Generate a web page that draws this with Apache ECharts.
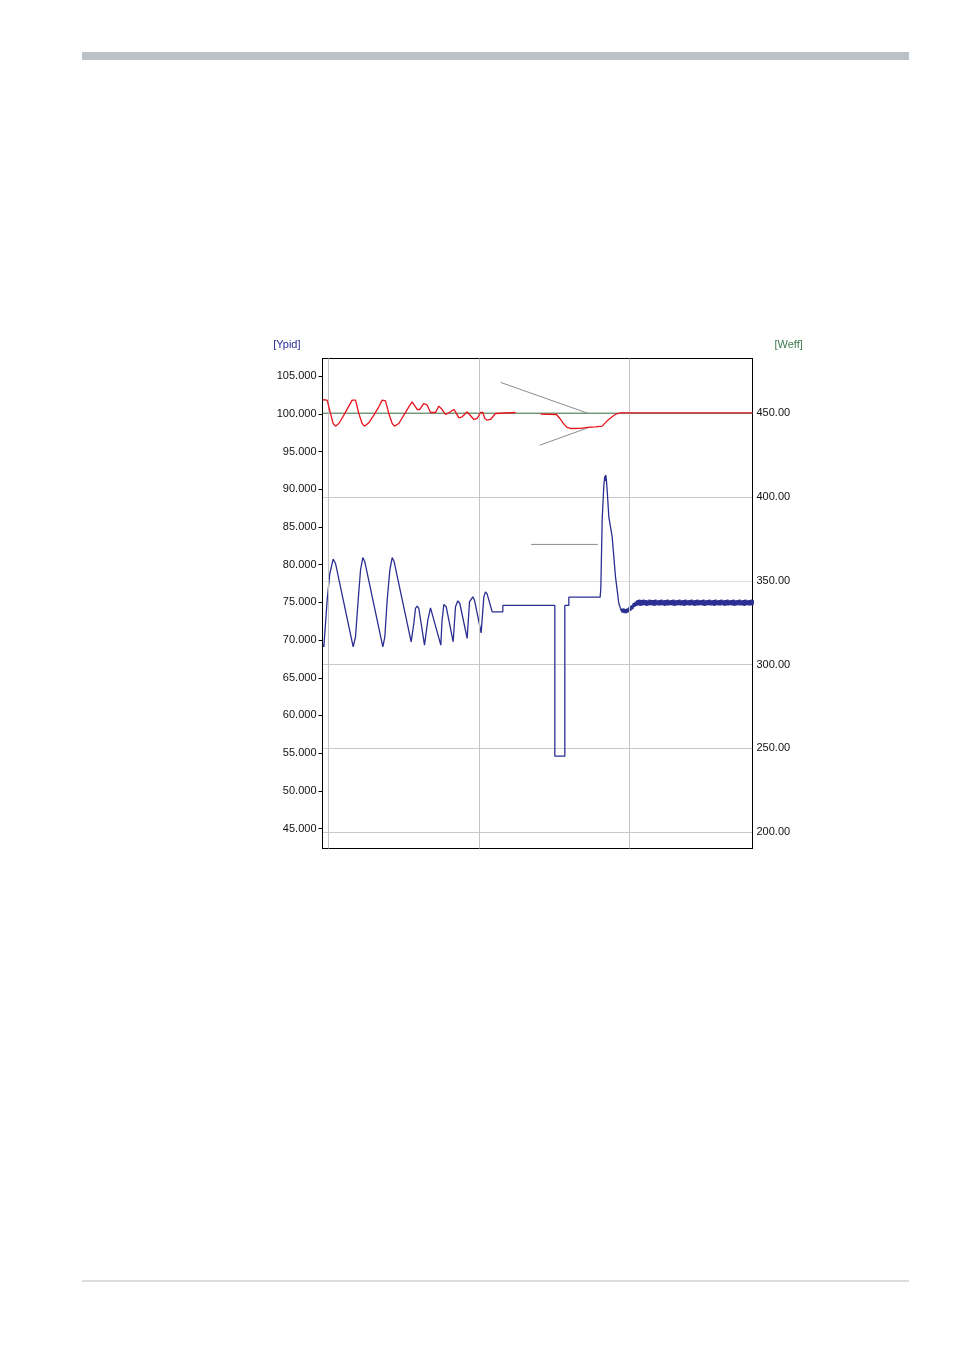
<!DOCTYPE html>
<html><head><meta charset="utf-8">
<script src="https://cdn.jsdelivr.net/npm/echarts@6/dist/echarts.min.js"></script>
<style>
html,body{margin:0;padding:0;background:#fff;}
#chart{position:absolute;left:0;top:0;width:954px;height:1350px;}
.bar{position:absolute;left:82px;top:52px;width:827px;height:8px;background:#bac2c7;}
.foot{position:absolute;left:82px;top:1280px;width:827px;height:2px;background:#dadcde;}
</style></head><body>
<div class="bar"></div><div class="foot"></div>
<div id="chart"></div>
<script>
// ---- tick labels ----
const leftTicks = [45, 50, 55, 60, 65, 70, 75, 80, 85, 90, 95, 100, 105];
const rightTicks = [200, 250, 300, 350, 400, 450];
const timeGrid = [6, 156.5, 307];

// ---- setpoint (Weff axis) ----
const setpoint = [[0, 450], [430, 450]];

// ---- red: actual value (Weff axis) ----
const redValues = [
  [0.5, 458.0], [1.33, 458.16], [4.67, 457.76], [8, 449.8], [10.67, 443.84], [13, 442.24],
  [16.33, 443.84], [21.33, 448.81], [26.33, 454.18], [29.67, 457.76], [31.33, 458.35], [33, 457.76],
  [36.33, 449.8], [39.67, 443.84], [42, 442.24], [46.33, 444.23], [51.33, 448.81], [56.33, 453.78],
  [59.67, 457.76], [61.33, 458.35], [63, 457.36], [66.33, 449.8], [69.67, 443.84], [72, 442.24],
  [76.33, 443.84], [81.33, 448.81], [86.33, 453.78], [89.67, 456.76], [91.33, 456.17], [94.67, 452.19],
  [97.33, 452.19], [101.33, 455.77], [103, 456.37], [104.67, 454.77], [108, 450.4], [113, 450.4],
  [116.33, 454.18], [118.67, 452.79], [123, 449.21], [124.67, 449.0], [128, 450.79], [131.33, 452.19],
  [133, 450.79], [136.33, 447.21], [139.67, 447.81], [144.67, 450.79], [147, 449.21], [151.33, 446.22],
  [154.67, 446.82], [158, 450.4], [160.33, 450.4], [162.33, 446.82], [164.67, 445.82], [168, 446.22],
  [173, 449.8], [174.67, 450.4], [193, 450.4], [205, '-'],
  [218, 449.4], [234, 449.2], [237.33, 446.82], [241.33, 443.44], [244.67, 441.45], [248, 440.85],
  [258, 440.9], [265, 441.5], [273, 441.84], [279.67, 442.24], [284.67, 445.42], [289.67, 447.81],
  [293, 449.4], [298, 450.2], [328, 450.2], [430, 450.2]
];

// ---- blue: controller output Ypid (left axis) ----
const bluePoints = [
  [0.5, 69.4], [1.33, 69.1], [4.67, 75.29], [7.33, 78.83], [10.67, 80.73], [13, 80.16],
  [30.67, 69.1], [33, 70.43], [35.67, 75.29], [38, 79.27], [40.33, 80.95], [42.33, 80.38],
  [60.33, 69.1], [62.33, 70.43], [64.67, 75.29], [67.33, 79.27], [69.67, 80.95], [71.67, 80.38],
  [88.67, 69.77], [91.33, 72.2], [93, 74.19], [94.67, 74.5], [96.33, 74.19],
  [102, 69.32], [105.33, 72.64], [108, 74.27], [109.67, 74.05],
  [118.33, 69.32], [119.5, 72.5], [121.33, 74.72], [123.67, 74.43],
  [130.67, 69.77], [133, 74.41], [135.33, 75.2], [137.33, 74.85],
  [144.67, 70.21], [147, 75.07], [150.33, 75.73], [152, 75.29],
  [158.67, 70.95], [161.33, 75.73], [163, 76.39], [164.67, 76.09],
  [169.67, 73.74], [180.33, 73.74], [180.33, 74.59], [232.33, 74.59], [232.33, 54.6],
  [242.33, 54.6], [242.33, 74.59], [246.33, 74.59], [246.33, 75.69], [277.67, 75.69],
  [278.33, 76.88], [279.67, 85.9], [281.33, 90.54], [282.33, 91.74], [282.8, 91.1], [283.2, 91.9],
  [283.8, 91.4], [284.67, 89.88], [286.33, 86.34], [289.67, 83.69], [291.33, 81.03], [293, 78.38],
  [294.67, 76.62], [296.33, 74.85], [298, 74.2]
];
const blueTailStart = 298;
const blueTailStep = 1;
const blueTail = [
  74.2,
  74.3, 73.7, 74.2, 73.6, 74.1, 73.6, 74.2, 73.7, 74.4, 73.9,
  74.6, 74.1, 74.9, 74.4, 75.1, 74.55, 75.3, 74.6, 75.35, 74.55,
  75.3, 74.6, 75.35, 74.65, 75.3, 74.55, 75.25, 74.6, 75.35, 74.65,
  75.3, 74.6, 75.3, 74.55, 75.35, 74.65, 75.25, 74.6, 75.3, 74.6,
  75.35, 74.65, 75.25, 74.55, 75.3, 74.6, 75.35, 74.6, 75.25, 74.65,
  75.3, 74.6, 75.35, 74.55, 75.25, 74.6, 75.3, 74.65, 75.35, 74.6,
  75.25, 74.6, 75.3, 74.55, 75.35, 74.65, 75.25, 74.6, 75.3, 74.6,
  75.35, 74.65, 75.25, 74.55, 75.3, 74.6, 75.35, 74.6, 75.25, 74.65,
  75.3, 74.6, 75.35, 74.55, 75.25, 74.6, 75.3, 74.65, 75.35, 74.6,
  75.25, 74.6, 75.3, 74.55, 75.35, 74.65, 75.25, 74.6, 75.3, 74.6,
  75.35, 74.65, 75.25, 74.55, 75.3, 74.6, 75.35, 74.6, 75.25, 74.65,
  75.3, 74.6, 75.35, 74.55, 75.25, 74.6, 75.3, 74.65, 75.35, 74.6,
  75.25, 74.6, 75.3, 74.55, 75.35, 74.65, 75.25, 74.6, 75.3, 74.6,
  75.35, 74.65, 75.3
];

// ---- callout leader lines (Weff axis) ----
const leaderA = [[178.3, 468.3], [266, 449.8]];
const leaderB = [[217.3, 430.9], [268, 441.8]];
const leaderC = [[208.7, 371.7], [275.3, 371.7]];

const FONT = "'Liberation Sans', Arial, sans-serif";
const tailData = blueTail.map((v, i) => [blueTailStart + i * blueTailStep, v]);

const chart = echarts.init(document.getElementById('chart'), null, {renderer: 'canvas'});
const leaderStyle = {type: 'line', yAxisIndex: 1, symbol: 'none', silent: true,
  lineStyle: {color: '#8c8c8c', width: 1}, z: 3};
chart.setOption({
  animation: false,
  grid: {left: 322.5, top: 358.5, width: 430, height: 490, show: true, borderColor: '#000', borderWidth: 1, backgroundColor: 'transparent'},
  xAxis: {type: 'value', min: 0, max: 430, show: false},
  yAxis: [
    {type: 'value', position: 'left', min: 42.35, max: 107.35, minInterval: 5, maxInterval: 5,
     name: '[Ypid]', nameLocation: 'end', nameGap: 14,
     nameTextStyle: {color: '#2b2b96', fontSize: 11, fontFamily: FONT, align: 'right', verticalAlign: 'middle', padding: [0, 22, 0, 0]},
     axisLine: {show: true, lineStyle: {color: '#000', width: 1}},
     axisTick: {show: true, length: 4, lineStyle: {color: '#000'}, customValues: leftTicks},
     axisLabel: {customValues: leftTicks, formatter: v => v.toFixed(3), margin: 6, color: '#111', fontSize: 11, fontFamily: FONT},
     splitLine: {show: false}},
    {type: 'value', position: 'right', min: 190.3, max: 482.6, minInterval: 50, maxInterval: 50,
     name: '[Weff]', nameLocation: 'end', nameGap: 14,
     nameTextStyle: {color: '#3b7a4d', fontSize: 11, fontFamily: FONT, align: 'left', verticalAlign: 'middle', padding: [0, 0, 0, 22]},
     axisLine: {show: true, lineStyle: {color: '#000', width: 1}},
     axisTick: {show: false},
     axisLabel: {customValues: rightTicks, formatter: v => v.toFixed(2), margin: 4, color: '#111', fontSize: 11, fontFamily: FONT},
     splitLine: {show: true, lineStyle: {width: 1, color: ['#000', '#c8c8c8', '#c8c8c8', '#c8c8c8', '#e2e2e2', '#c8c8c8', '#c8c8c8', '#000']}}}
  ],
  series: [
    {type: 'line', name: 'Setpoint', yAxisIndex: 1, data: setpoint, symbol: 'none', silent: true,
     lineStyle: {color: '#4a7c50', width: 1}, z: 2,
     markLine: {silent: true, symbol: 'none', label: {show: false},
       lineStyle: {color: '#c4c4c4', type: 'solid', width: 1},
       data: timeGrid.map(v => ({xAxis: v}))}},
    Object.assign({data: leaderA}, leaderStyle),
    Object.assign({data: leaderB}, leaderStyle),
    Object.assign({data: leaderC}, leaderStyle),
    {type: 'line', name: 'Ypid', yAxisIndex: 0, data: bluePoints, symbol: 'none', silent: true,
     lineStyle: {color: '#2a2f91', width: 1.3}, z: 4},
    {type: 'line', name: 'Ypid tail', yAxisIndex: 0, data: tailData, symbol: 'none', silent: true,
     lineStyle: {color: '#2a2f91', width: 2}, z: 4},
    {type: 'line', name: 'Weff', yAxisIndex: 1, data: redValues, symbol: 'none', silent: true, connectNulls: false,
     lineStyle: {color: '#e8141e', width: 1.3}, z: 5}
  ]
});
</script>
</body></html>
